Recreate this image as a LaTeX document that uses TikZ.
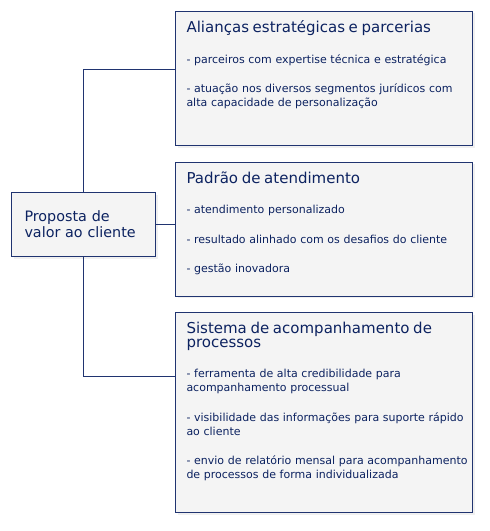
\documentclass[tikz,border=0pt]{standalone}
\usepackage{fontspec}
\setmainfont{DejaVu Sans}
\usetikzlibrary{positioning,shadows}

\definecolor{navytext}{RGB}{12,34,96}
\definecolor{navyline}{RGB}{32,52,112}
\definecolor{panelfill}{RGB}{244,244,244}

\newcommand{\paneltitle}[1]{{\fontsize{11.25}{10}\selectfont #1\par}\vspace{12.5pt}}

\begin{document}
\begin{tikzpicture}[
    x=0.75pt, y=-0.75pt,
    node distance=11.75pt,
    panel/.style={rectangle, draw=navyline, line width=0.75pt, fill=panelfill, text=navytext, align=left,
        text width=206.25pt, inner xsep=8.25pt, inner ysep=7.75pt, text height=8pt,
        font=\fontsize{8.25}{10.5}\selectfont,
        drop shadow={opacity=0.12, shadow xshift=1.5pt, shadow yshift=-1.5pt}},
    valuebox/.style={rectangle, draw=navyline, line width=0.75pt, fill=panelfill, text=navytext, align=left,
        text width=88.5pt, inner xsep=9.75pt, minimum height=48pt,
        font=\fontsize{10.75}{12}\selectfont,
        drop shadow={opacity=0.12, shadow xshift=1.5pt, shadow yshift=-1.5pt}},
    link/.style={draw=navyline, line width=0.75pt}
]
\useasboundingbox (0,0) rectangle (489,531);

\node[valuebox, anchor=north west] (proposta) at (11,192) {Proposta de\\valor ao cliente};

\node[panel, anchor=north west, text depth=77pt] (aliancas) at (175,11) {%
\paneltitle{Alianças estratégicas e parcerias}%
- parceiros com expertise técnica e estratégica\\[11.5pt]
- atuação nos diversos segmentos jurídicos com\\alta capacidade de personalização};

\node[panel, below=of aliancas, text depth=77pt] (padrao) {%
\paneltitle{Padrão de atendimento}%
- atendimento personalizado\\[11.5pt]
- resultado alinhado com os desafios do cliente\\[11.5pt]
- gestão inovadora};

\node[panel, below=of padrao, text depth=126.5pt] (sistema) {%
\paneltitle{Sistema de acompanhamento de\\processos}%
- ferramenta de alta credibilidade para\\acompanhamento processual\\[11.5pt]
\mbox{- visibilidade das informações para suporte rápido}\\ao cliente\\[11.5pt]
\mbox{- envio de relatório mensal para acompanhamento}\\de processos de forma individualizada};

\coordinate (toaliancas) at ([yshift=-44.25pt]aliancas.north west);
\coordinate (tosistema) at ([yshift=-48pt]sistema.north west);

\draw[link] (proposta.north) |- (toaliancas);
\draw[link] (proposta.south) |- (tosistema);
\draw[link] (proposta.east) -- (proposta.east -| padrao.west);
\end{tikzpicture}
\end{document}
